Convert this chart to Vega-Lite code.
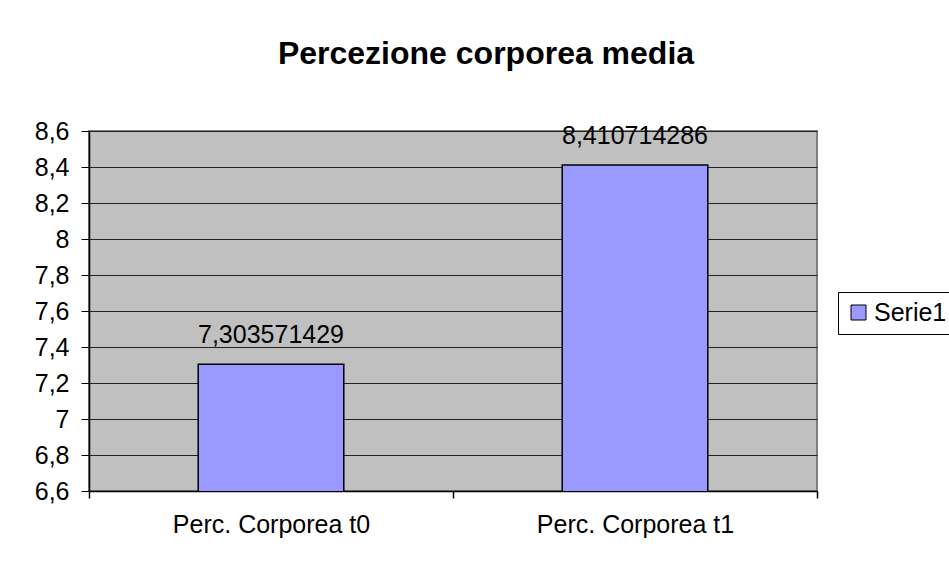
{
  "$schema": "https://vega.github.io/schema/vega-lite/v6.json",
  "autosize": "none",
  "width": 728,
  "height": 360,
  "padding": {"left": 89, "top": 131, "right": 132, "bottom": 81},
  "background": "white",
  "config": {
    "font": "Liberation Sans",
    "view": {"fill": "#C0C0C0", "stroke": "#808080", "strokeWidth": 2},
    "locale": {"number": {"decimal": ",", "thousands": ".", "grouping": [3], "currency": ["€", ""]}}
  },
  "title": {
    "text": "Percezione corporea media",
    "font": "Liberation Sans",
    "fontSize": 32,
    "fontWeight": "bold",
    "color": "black",
    "anchor": "middle",
    "dx": 33,
    "offset": 48
  },
  "data": {
    "values": [
      {"categoria": "Perc. Corporea t0", "valore": 7.303571429, "serie": "Serie1"},
      {"categoria": "Perc. Corporea t1", "valore": 8.410714286, "serie": "Serie1"}
    ]
  },
  "encoding": {
    "x": {
      "field": "categoria",
      "type": "nominal",
      "sort": null,
      "scale": {"paddingInner": 0, "paddingOuter": 0},
      "axis": {
        "title": null,
        "labelAngle": 0,
        "labelFontSize": 25,
        "labelColor": "black",
        "labelPadding": 14,
        "labelLimit": 400,
        "tickBand": "extent",
        "tickColor": "black",
        "tickWidth": 1.5,
        "tickSize": 7,
        "domainColor": "black",
        "domainWidth": 1.5,
        "grid": false
      }
    },
    "y": {
      "field": "valore",
      "type": "quantitative",
      "scale": {"domain": [6.6, 8.6], "zero": false, "nice": false},
      "axis": {
        "title": null,
        "values": [6.6, 6.8, 7, 7.2, 7.4, 7.6, 7.8, 8, 8.2, 8.4, 8.6],
        "format": ".1~f",
        "labelFontSize": 25,
        "labelColor": "black",
        "labelPadding": 12,
        "tickColor": "black",
        "tickSize": 8,
        "domainColor": "black",
        "domainWidth": 1.5,
        "grid": true,
        "gridColor": "#222222",
        "gridWidth": 1
      }
    }
  },
  "layer": [
    {
      "mark": {"type": "bar", "stroke": "black", "strokeWidth": 1.5, "clip": true, "width": {"band": 0.4}},
      "encoding": {
        "color": {
          "field": "serie",
          "type": "nominal",
          "scale": {"domain": ["Serie1"], "range": ["#9999FF"]},
          "legend": {
            "title": null,
            "orient": "none",
            "legendX": 749,
            "legendY": 161,
            "symbolType": "square",
            "symbolSize": 225,
            "symbolStrokeColor": "black",
            "symbolStrokeWidth": 1,
            "symbolOpacity": 1,
            "labelFontSize": 25,
            "labelColor": "black",
            "labelOffset": 3,
            "strokeColor": "black",
            "fillColor": "white",
            "padding": 8
          }
        }
      }
    },
    {
      "mark": {"type": "text", "fontSize": 25, "color": "black", "baseline": "alphabetic", "dy": -21},
      "encoding": {
        "text": {"field": "valore", "type": "quantitative", "format": ".9f"}
      }
    }
  ]
}
